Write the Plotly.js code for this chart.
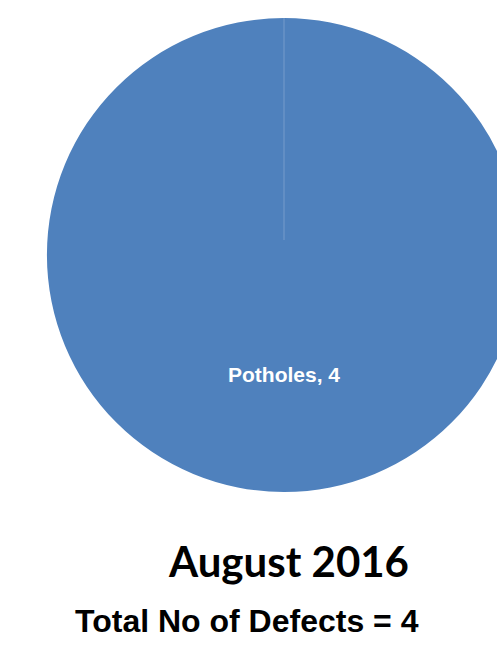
<!DOCTYPE html>
<html>
<head>
<meta charset="utf-8">
<script src="https://cdn.plot.ly/plotly-3.0.1.min.js"></script>
<style>
html,body{margin:0;padding:0;overflow:hidden;background:#fff;width:497px;height:648px;}
#chart{width:600px;height:648px;}
</style>
</head>
<body>
<div id="chart"></div>
<script>
const labels = ["Potholes"];
const values = [4];
const colors = ["#4F81BD"];
const chartTitle = "August 2016";
const subTitle = "Total No of Defects = " + values.reduce((a,b)=>a+b,0);

const W = 600, H = 648;
const trace = {
  type: "pie",
  labels: labels,
  values: values,
  marker: {colors: colors, line: {color: "#FFFFFF", width: 0}},
  textinfo: "none",
  hoverinfo: "label+value",
  sort: false,
  direction: "clockwise",
  rotation: 0,
  domain: {x: [47/W, 521/W], y: [1-492/H, 1-18/H]},
  showlegend: false
};

const layout = {
  width: W, height: H,
  margin: {l:0, r:0, t:0, b:0},
  paper_bgcolor: "#FFFFFF",
  showlegend: false,
  shapes: [
    {type:"line", xref:"paper", yref:"paper", x0:284/W, x1:284/W, y0:1-240/H, y1:1-18/H,
     line:{color:"rgba(255,255,255,0.22)", width:1}}
  ],
  annotations: [
    {text: "<b>" + labels[0] + ", " + values[0] + "</b>", xref:"paper", yref:"paper",
     x:284/W, y:1-374/H, xanchor:"center", yanchor:"middle", showarrow:false,
     font:{family:"Liberation Sans, Arial, sans-serif", size:21, color:"#FFFFFF"}},
    {text: "<b>" + chartTitle + "</b>", xref:"paper", yref:"paper",
     x:288/W, y:1-561/H, xanchor:"center", yanchor:"middle", showarrow:false,
     font:{family:"Lato, sans-serif", size:42, color:"#000000"}},
    {text: "<b>" + subTitle + "</b>", xref:"paper", yref:"paper",
     x:246.5/W, y:1-621/H, xanchor:"center", yanchor:"middle", showarrow:false,
     font:{family:"Liberation Sans, Arial, sans-serif", size:32, color:"#000000"}}
  ]
};

Plotly.newPlot("chart", [trace], layout, {displayModeBar:false, staticPlot:true});
</script>
</body>
</html>
